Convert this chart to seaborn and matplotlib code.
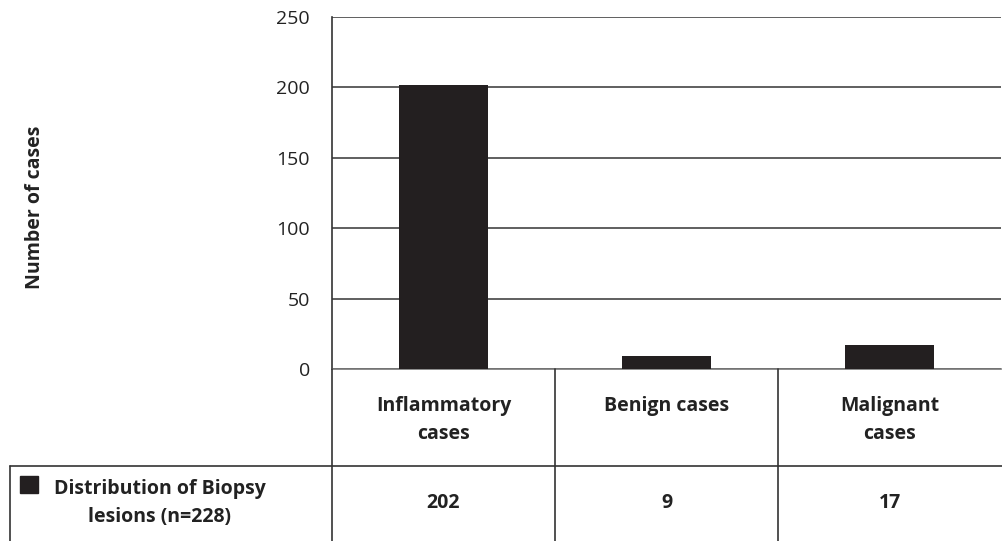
import matplotlib
matplotlib.use('Agg')
import matplotlib.pyplot as plt
import matplotlib.transforms as mtransforms
from matplotlib.lines import Line2D
from matplotlib.patches import Rectangle
import pandas as pd
import seaborn as sns

# data
categories = ['Inflammatory\ncases', 'Benign cases', 'Malignant\ncases']
cases = [202, 9, 17]
series_name = 'Distribution of Biopsy\nlesions (n=228)'
y_ticks = [0, 50, 100, 150, 200, 250]

df = pd.DataFrame({'category': categories, 'cases': cases})

sns.set_style('white')
plt.rcParams['font.family'] = ['Open Sans', 'DejaVu Sans']

W, H = 1002, 541
fig = plt.figure(figsize=(W / 100, H / 100), dpi=100)

# main plot area in pixels
left, right, top, bottom = 332, 1001, 17, 369
ax = fig.add_axes([left / W, 1 - bottom / H, (right - left) / W, (bottom - top) / H])

bar_color = '#231f20'
sns.barplot(data=df, x='category', y='cases', color=bar_color, width=0.4,
            saturation=1, edgecolor=bar_color, linewidth=0, ax=ax, zorder=3)

ax.set_xlim(-0.5, len(categories) - 0.5)
ax.set_ylim(0, 250)
ax.set_yticks(y_ticks)
ax.yaxis.grid(True, color='#444444', linewidth=1.2, zorder=0)
ax.set_axisbelow(True)
ax.tick_params(axis='y', length=0, pad=16, labelsize=14, labelcolor='#222222')
ax.set_xticks([])
ax.set_xlabel('')
ax.set_ylabel('')
for s in ['top', 'right']:
    ax.spines[s].set_visible(False)
ax.spines['left'].set_color('#333333')
ax.spines['left'].set_linewidth(1.2)
ax.spines['bottom'].set_color('#777777')
ax.spines['bottom'].set_linewidth(1.2)

fig.text(35 / W, 1 - 207 / H, 'Number of cases', rotation=90, ha='center', va='center',
         fontsize=14, fontweight='bold', color='#222222')

# overlay for the data table, pixel coordinates
ov = fig.add_axes([0, 0, 1, 1], facecolor='none')
ov.set_xlim(0, W)
ov.set_ylim(H, 0)
ov.axis('off')

# x in data coords of the main axes, y in pixels
xform = mtransforms.blended_transform_factory(ax.transData, ov.transData)

line_kw = dict(color='#333333', linewidth=1.2)
row_top, row_mid, row_bot = 369, 466, 541

# category borders
for b in range(len(categories)):
    ov.add_line(Line2D([b - 0.5, b - 0.5], [row_top, row_bot], transform=xform, **line_kw))
ov.add_line(Line2D([10, W], [row_mid, row_mid], **line_kw))
ov.add_line(Line2D([10, 10], [row_mid, row_bot], **line_kw))

for i, cat in enumerate(categories):
    ov.text(i, 396, cat, transform=xform, ha='center', va='top', fontsize=14,
            fontweight='bold', color='#222222', linespacing=1.55, multialignment='center')
    ov.text(i, 503, str(cases[i]), transform=xform, ha='center', va='center',
            fontsize=14, fontweight='bold', color='#222222')

# legend key and series name
ov.add_patch(Rectangle((20, 476), 18, 17, color=bar_color))
ov.text(160, 503, series_name, ha='center', va='center', fontsize=14, fontweight='bold',
        color='#222222', linespacing=1.55, multialignment='center')

fig.savefig('out.png', dpi=100)
